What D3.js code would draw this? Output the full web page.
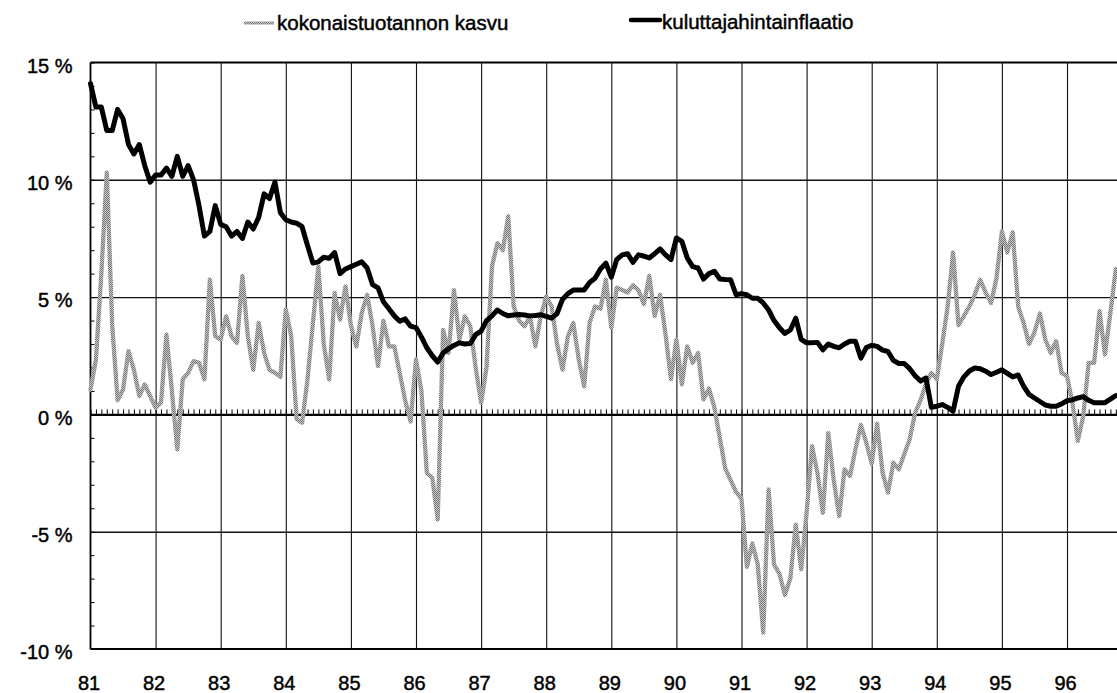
<!DOCTYPE html>
<html>
<head>
<meta charset="utf-8">
<script src="https://cdnjs.cloudflare.com/ajax/libs/d3/7.8.5/d3.min.js"></script>
<style>
  body { margin: 0; background: #fff; }
  svg { display: block; }
  text { font-family: "Liberation Sans", Arial, sans-serif; fill: #000; stroke: #000; stroke-width: 0.45px; }
</style>
</head>
<body>
<script>
(function() {

    // monthly figures, Jan 1981 -> Oct 1996 (% change on previous year)
    let inflation = [
        14.1, 13.1, 13.1, 12.1, 12.1, 13.0, 12.6, 11.5, 11.1, 11.5, 10.6, 9.9,      // 81
        10.2, 10.2, 10.5, 10.15, 11.0, 10.15, 10.6, 10.0, 8.9, 7.6, 7.8, 8.9,       // 82
        8.1, 8.0, 7.6, 7.8, 7.5, 8.2, 7.9, 8.4, 9.4, 9.2, 9.9, 8.6,                 // 83
        8.3, 8.2, 8.15, 8.0, 7.2, 6.45, 6.5, 6.7, 6.65, 6.9, 6.0, 6.2,              // 84
        6.3, 6.4, 6.5, 6.24, 5.53, 5.39, 4.8, 4.5, 4.2, 3.97, 4.07, 3.76,           // 85
        3.7, 3.3, 2.84, 2.5, 2.23, 2.62, 2.8, 2.94, 3.05, 3.0, 3.02, 3.4,           // 86
        3.55, 4.0, 4.2, 4.45, 4.3, 4.2, 4.24, 4.26, 4.24, 4.2, 4.22, 4.25,          // 87
        4.18, 4.1, 4.3, 4.9, 5.15, 5.3, 5.3, 5.3, 5.62, 5.8, 6.2, 6.45,             // 88
        5.85, 6.6, 6.8, 6.85, 6.48, 6.8, 6.75, 6.67, 6.85, 7.05, 6.8, 6.6,          // 89
        7.52, 7.38, 6.67, 6.3, 6.24, 5.77, 6.0, 6.1, 5.77, 5.75, 5.74, 5.1,         // 90
        5.15, 5.1, 4.95, 4.95, 4.75, 4.45, 4.0, 3.69, 3.45, 3.6, 4.1, 3.2,          // 91
        3.05, 3.05, 3.07, 2.75, 3.0, 2.9, 2.84, 3.0, 3.12, 3.12, 2.4, 2.85,         // 92
        2.95, 2.9, 2.74, 2.68, 2.3, 2.17, 2.17, 1.95, 1.65, 1.42, 1.55, 0.3,        // 93
        0.35, 0.42, 0.3, 0.14, 1.2, 1.6, 1.85, 1.98, 1.95, 1.84, 1.7, 1.8,          // 94
        1.9, 1.75, 1.6, 1.68, 1.2, 0.85, 0.7, 0.55, 0.4, 0.35, 0.35, 0.45,          // 95
        0.58, 0.62, 0.7, 0.76, 0.6, 0.5, 0.5, 0.5, 0.65, 0.8                        // 96
    ];

    let gdpGrowth = [
        1.06, 2.34, 6.0, 10.3, 3.8, 0.6, 1.06, 2.7, 1.9, 0.78, 1.28, 0.78,          // 81
        0.28, 0.5, 3.4, 1.0, -1.49, 1.49, 1.77, 2.27, 2.2, 1.49, 5.74, 3.33,        // 82
        3.19, 4.18, 3.33, 3.05, 5.9, 3.33, 1.9, 3.9, 2.62, 1.9, 1.77, 1.6,          // 83
        4.47, 3.33, -0.2, -0.35, 1.49, 3.9, 6.3, 3.0, 1.49, 5.18, 4.04, 5.46,       // 84
        3.8, 2.9, 4.33, 5.1, 3.76, 2.06, 4.0, 2.9, 2.9, 1.77, 0.6, -0.3,            // 85
        2.34, 1.0, -2.5, -2.7, -4.47, 3.6, 2.62, 5.3, 3.19, 4.18, 3.76, 2.0,        // 86
        0.5, 2.0, 6.3, 7.3, 7.0, 8.44, 4.6, 4.0, 3.76, 4.18, 2.9, 4.18,             // 87
        5.03, 4.6, 3.0, 1.91, 3.33, 3.9, 2.34, 1.2, 3.9, 4.6, 4.5, 5.74,            // 88
        3.7, 5.4, 5.3, 5.2, 5.5, 5.3, 4.7, 5.9, 4.2, 5.1, 3.4, 1.5,                 // 89
        3.19, 1.28, 2.9, 2.2, 2.62, 0.64, 1.1, 0.3, -1.0, -2.3, -2.8, -3.3,         // 90
        -3.6, -6.5, -5.5, -6.4, -9.3, -3.2, -6.4, -6.8, -7.7, -7.0, -4.7, -6.6,     // 91
        -4.2, -1.35, -2.5, -4.2, -0.8, -2.8, -4.33, -2.34, -2.62, -1.5, -0.45, -1.2, // 92
        -2.1, -0.4, -2.48, -3.33, -2.06, -2.34, -1.7, -1.06, 0.07, 0.6, 1.3, 1.77,  // 93
        1.49, 3.0, 4.6, 6.9, 3.8, 4.2, 4.6, 5.1, 5.74, 5.2, 4.75, 5.8,              // 94
        7.8, 6.9, 7.76, 4.6, 3.9, 3.0, 3.5, 4.3, 3.19, 2.62, 3.12, 1.77,            // 95
        1.63, 0.5, -1.13, -0.07, 2.2, 2.2, 4.4, 2.55, 4.33, 6.2                     // 96
    ];

    let yearTicks = [81, 82, 83, 84, 85, 86, 87, 88, 89, 90, 91, 92, 93, 94, 95, 96];
    let pctTicks = [-10, -5, 0, 5, 10, 15];
    let seriesNames = ["kokonaistuotannon kasvu", "kuluttajahintainflaatio"];

    let svgContainer = '';

    window.onload = function() {
        svgContainer = d3.select('body')
            .append('svg')
            .attr('width', 1117)
            .attr('height', 693);

        // halftone look of the grey line in the scan
        let pat = svgContainer.append('defs').append('pattern')
            .attr('id', 'halftone')
            .attr('patternUnits', 'userSpaceOnUse')
            .attr('width', 2)
            .attr('height', 2);
        pat.append('rect').attr('width', 2).attr('height', 2).attr('fill', '#cacaca');
        pat.append('rect').attr('width', 1).attr('height', 1).attr('fill', '#747474');
        pat.append('rect').attr('x', 1).attr('y', 1).attr('width', 1).attr('height', 1).attr('fill', '#747474');

        let funcs = drawAxes({min: 90.5, max: 90.5 + 16 * 65.1}, {min: 62.5, max: 649});
        plotLine(funcs, gdpGrowth, 'url(#halftone)', 4.3);
        plotLine(funcs, inflation, '#000', 5);
        makeLegend();
    }

    // grid, frame and labels
    function drawAxes(rangeX, rangeY) {
        let xScale = d3.scaleLinear()
            .domain([81, 97])
            .range([rangeX.min, rangeX.max]);

        let yScale = d3.scaleLinear()
            .domain([-10, 15])
            .range([rangeY.max, rangeY.min]);

        // vertical year lines
        svgContainer.append('g')
            .attr('transform', 'translate(0, ' + rangeY.max + ')')
            .call(d3.axisBottom(xScale).tickValues(yearTicks.slice(1)).tickSize(-(rangeY.max - rangeY.min)).tickFormat(''))
            .call(g => g.select('.domain').remove())
            .call(g => g.selectAll('line').attr('stroke', '#111').attr('stroke-width', 1.1));

        // horizontal % lines
        svgContainer.append('g')
            .attr('transform', 'translate(' + rangeX.min + ', 0)')
            .call(d3.axisLeft(yScale).tickValues([-5, 5, 10]).tickSize(-(1117 - rangeX.min)).tickFormat(''))
            .call(g => g.select('.domain').remove())
            .call(g => g.selectAll('line').attr('stroke', '#111').attr('stroke-width', 1.4));

        // small 1 % ticks on the left axis
        svgContainer.append('g')
            .attr('transform', 'translate(' + rangeX.min + ', 0)')
            .call(d3.axisRight(yScale).ticks(25).tickSize(4).tickFormat(''))
            .call(g => g.select('.domain').remove())
            .call(g => g.selectAll('line').attr('stroke', '#000').attr('stroke-width', 1));

        // zero line with monthly ticks
        let monthTicks = d3.range(81, 97, 1 / 12);
        svgContainer.append('g')
            .attr('transform', 'translate(0, ' + yScale(0) + ')')
            .call(d3.axisTop(xScale).tickValues(monthTicks).tickSize(5).tickSizeOuter(0).tickFormat(''))
            .call(g => g.select('.domain').attr('stroke', '#000').attr('stroke-width', 2.2))
            .call(g => g.selectAll('line').attr('stroke', '#000').attr('stroke-width', 1));

        // frame: top, bottom, left
        svgContainer.append('line')
            .attr('x1', rangeX.min).attr('x2', 1117)
            .attr('y1', yScale(15)).attr('y2', yScale(15))
            .attr('stroke', '#000').attr('stroke-width', 2.2);
        svgContainer.append('line')
            .attr('x1', rangeX.min).attr('x2', 1117)
            .attr('y1', yScale(-10)).attr('y2', yScale(-10))
            .attr('stroke', '#000').attr('stroke-width', 2.2);
        svgContainer.append('line')
            .attr('x1', rangeX.min).attr('x2', rangeX.min)
            .attr('y1', yScale(15)).attr('y2', yScale(-10))
            .attr('stroke', '#000').attr('stroke-width', 1.8);

        // tick labels
        let yAxis = d3.axisLeft(yScale).tickValues(pctTicks).tickSize(0).tickPadding(18)
            .tickFormat(d => d + ' %');
        svgContainer.append('g')
            .attr('transform', 'translate(' + rangeX.min + ', 0)')
            .call(yAxis)
            .call(g => g.select('.domain').remove())
            .call(g => g.selectAll('text').attr('dy', '0.48em').style('font-size', '20px')
                .attr('font-family', null).attr('fill', null));

        let xAxis = d3.axisBottom(xScale).tickValues(yearTicks).tickSize(0).tickPadding(27)
            .tickFormat(d => d);
        svgContainer.append('g')
            .attr('transform', 'translate(-2, ' + rangeY.max + ')')
            .call(xAxis)
            .call(g => g.select('.domain').remove())
            .call(g => g.selectAll('text').style('font-size', '20px')
                .attr('font-family', null).attr('fill', null));

        return {
            x: (d, i) => xScale(81 + i / 12),
            y: (d) => yScale(d),
            xScale: xScale,
            yScale: yScale
        };
    }

    function plotLine(funcs, values, colour, width) {
        let line = d3.line()
            .x(funcs.x)
            .y(funcs.y);

        svgContainer.append('path')
            .datum(values)
            .attr('fill', 'none')
            .attr('stroke', colour)
            .attr('stroke-width', width)
            .attr('stroke-linejoin', 'round')
            .attr('stroke-linecap', 'round')
            .attr('d', line);
    }

    // legend above the plot
    function makeLegend() {
        svgContainer.append('line')
            .attr('x1', 244).attr('x2', 274)
            .attr('y1', 23).attr('y2', 23)
            .attr('stroke', 'url(#halftone)')
            .attr('stroke-width', 3);
        svgContainer.append('text')
            .attr('x', 277)
            .attr('y', 30)
            .style('font-size', '20.5px')
            .text(seriesNames[0]);

        svgContainer.append('line')
            .attr('x1', 631).attr('x2', 660)
            .attr('y1', 20).attr('y2', 20)
            .attr('stroke', '#000')
            .attr('stroke-width', 4.5)
            .attr('stroke-linecap', 'round');
        svgContainer.append('text')
            .attr('x', 662)
            .attr('y', 29)
            .style('font-size', '20.5px')
            .text(seriesNames[1]);
    }
})();
</script>
</body>
</html>
